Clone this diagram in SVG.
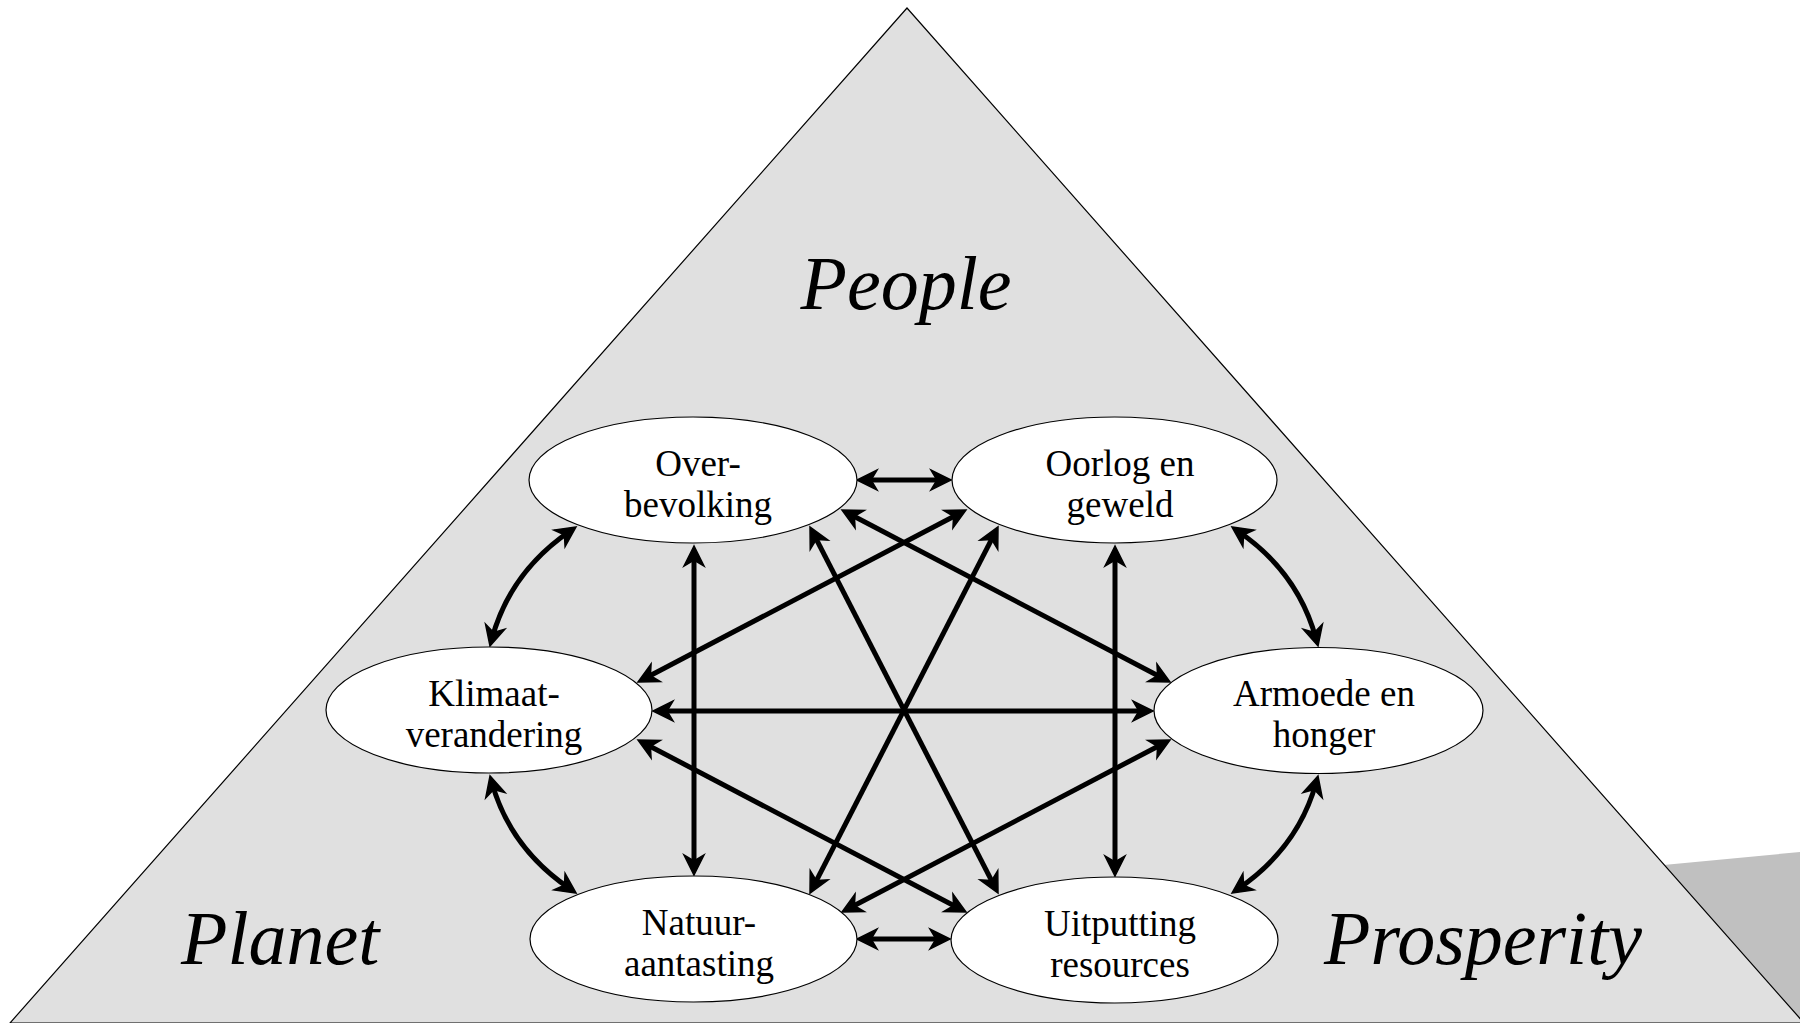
<svg xmlns="http://www.w3.org/2000/svg" width="1800" height="1023" viewBox="0 0 1800 1023">
<style>
.node ellipse{fill:#fff;stroke:#000;stroke-width:1.2}
.node text{font-family:"Liberation Serif","Times New Roman",serif;font-size:37px;text-anchor:middle;fill:#000}
.big{font-family:"Liberation Serif","Times New Roman",serif;font-style:italic;font-size:76px;fill:#000}
.conn path{fill:none;stroke:#000;stroke-width:5;marker-start:url(#ah);marker-end:url(#ah)}
</style>
<defs>
<marker id="ah" markerUnits="userSpaceOnUse" orient="auto-start-reverse" refX="0" refY="0" markerWidth="40" markerHeight="40" viewBox="-20 -20 40 40" overflow="visible">
<path d="M7,0 L-13,-10 L-7,0 L-13,10 Z" fill="#000" stroke="#000" stroke-width="1.5" stroke-linejoin="miter"/>
</marker>
</defs>
<rect x="0" y="0" width="1800" height="1023" fill="#fff"/>
<polygon points="1600,871 1800,852 1800,1023 1600,1023" fill="#c0c0c0"/>
<polygon points="907,8 10,1023 1804,1023" fill="#e0e0e0" stroke="#000" stroke-width="1.2"/>
<text class="big" x="906" y="309" text-anchor="middle">People</text>
<text class="big" x="181" y="964">Planet</text>
<text class="big" x="1324" y="964">Prosperity</text>
<g class="conn" id="connectors">
<path d="M864,480 L944,480"/>
<path d="M864,939 L943,939"/>
<path d="M660,711 L1146,711"/>
<path d="M694,553 L694,868"/>
<path d="M1115,553 L1115,869"/>
<path d="M813.2,533.2 L994.8,886.8"/>
<path d="M994.8,533.2 L813.2,886.8"/>
<path d="M848.2,513.2 L1163.8,678.8"/>
<path d="M959.8,513.2 L644.2,678.8"/>
<path d="M644.2,743.2 L959.8,908.8"/>
<path d="M848.2,908.8 L1163.8,743.2"/>
<path d="M1237.8,531 Q1298,572 1316.2,639.2"/>
<path d="M570.2,531 Q510,572 491.8,639.2"/>
<path d="M1237.8,889 Q1298,848 1316.1,782.7"/>
<path d="M570.2,889 Q510,848 491.9,782.7"/>
</g>
<g class="node" id="overbevolking">
<ellipse cx="693" cy="480" rx="164" ry="63"/>
<text x="698" y="476">Over-</text>
<text x="698" y="517">bevolking</text>
</g>
<g class="node" id="oorlog">
<ellipse cx="1114.5" cy="480" rx="162.5" ry="63"/>
<text x="1120" y="476">Oorlog en</text>
<text x="1120" y="517">geweld</text>
</g>
<g class="node" id="klimaat">
<ellipse cx="489" cy="710" rx="163" ry="63"/>
<text x="494" y="706">Klimaat-</text>
<text x="494" y="747">verandering</text>
</g>
<g class="node" id="armoede">
<ellipse cx="1318.5" cy="710.5" rx="164.5" ry="63"/>
<text x="1324" y="706">Armoede en</text>
<text x="1324" y="747">honger</text>
</g>
<g class="node" id="natuur">
<ellipse cx="693.5" cy="939" rx="163.5" ry="63"/>
<text x="699" y="935">Natuur-</text>
<text x="699" y="976">aantasting</text>
</g>
<g class="node" id="uitputting">
<ellipse cx="1114.5" cy="940" rx="163.5" ry="63"/>
<text x="1120" y="936">Uitputting</text>
<text x="1120" y="977">resources</text>
</g>
</svg>
